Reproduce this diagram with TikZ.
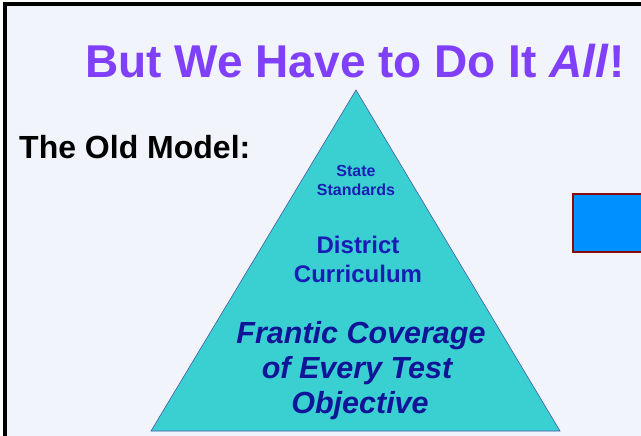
\documentclass[tikz,border=0pt]{standalone}
\usepackage{fontspec}
\setmainfont{Liberation Sans}
\definecolor{bgc}{RGB}{241,244,250}
\definecolor{titlec}{RGB}{128,64,250}
\definecolor{trif}{RGB}{58,208,210}
\definecolor{tric}{RGB}{70,90,170}
\definecolor{txtblue}{RGB}{24,30,180}
\definecolor{txtnavy}{RGB}{16,20,150}
\definecolor{boxf}{RGB}{0,144,255}
\definecolor{boxd}{RGB}{140,10,10}
\tikzset{
  title/.style={anchor=base, text=titlec, font=\fontsize{46}{50}\selectfont\bfseries, inner sep=0pt},
  sub/.style={anchor=base west, font=\fontsize{32}{36}\selectfont\bfseries, inner sep=0pt},
  small/.style={anchor=base, text=txtblue, font=\fontsize{16}{19}\selectfont\bfseries, inner sep=0pt},
  mid/.style={anchor=base, text=txtblue, font=\fontsize{24}{29}\selectfont\bfseries, inner sep=0pt},
  big/.style={anchor=base, text=txtnavy, font=\fontsize{30.5}{36}\selectfont\bfseries\itshape, inner sep=0pt},
}
\begin{document}
\begin{tikzpicture}[x=1pt,y=-1pt]
\useasboundingbox (0,0) rectangle (641,436);
\fill[white] (0,0) rectangle (641,436);
\fill[bgc] (4,4) rectangle (641,436);
\draw[black, line width=4pt] (4.5,436) -- (4.5,4.5) -- (641,4.5);
% blue box
\draw[boxd, fill=boxf, line width=2.5pt] (573,194) rectangle (650,252);
% triangle
\coordinate (apex) at (356,90);
\coordinate (bl) at (151,431);
\coordinate (br) at (560,431);
\draw[tric, fill=trif, line width=0.6pt] (apex) -- (br) -- (bl) -- cycle;
% texts
\node[title] (t) at (355,78) {But We Have to Do It \textit{All}!};
\node[sub] (s) at (19,158) {The Old Model:};
\node[small] (st1) at (356,177) {State};
\node[small] (st2) at (356,195) {Standards};
\node[mid] (d1) at (358,253) {District};
\node[mid] (d2) at (358,282) {Curriculum};
\node[big] (f1) at (361,343) {Frantic Coverage};
\node[big] (f2) at (357,378) {of Every Test};
\node[big] (f3) at (360,413) {Objective};
\end{tikzpicture}
\end{document}
